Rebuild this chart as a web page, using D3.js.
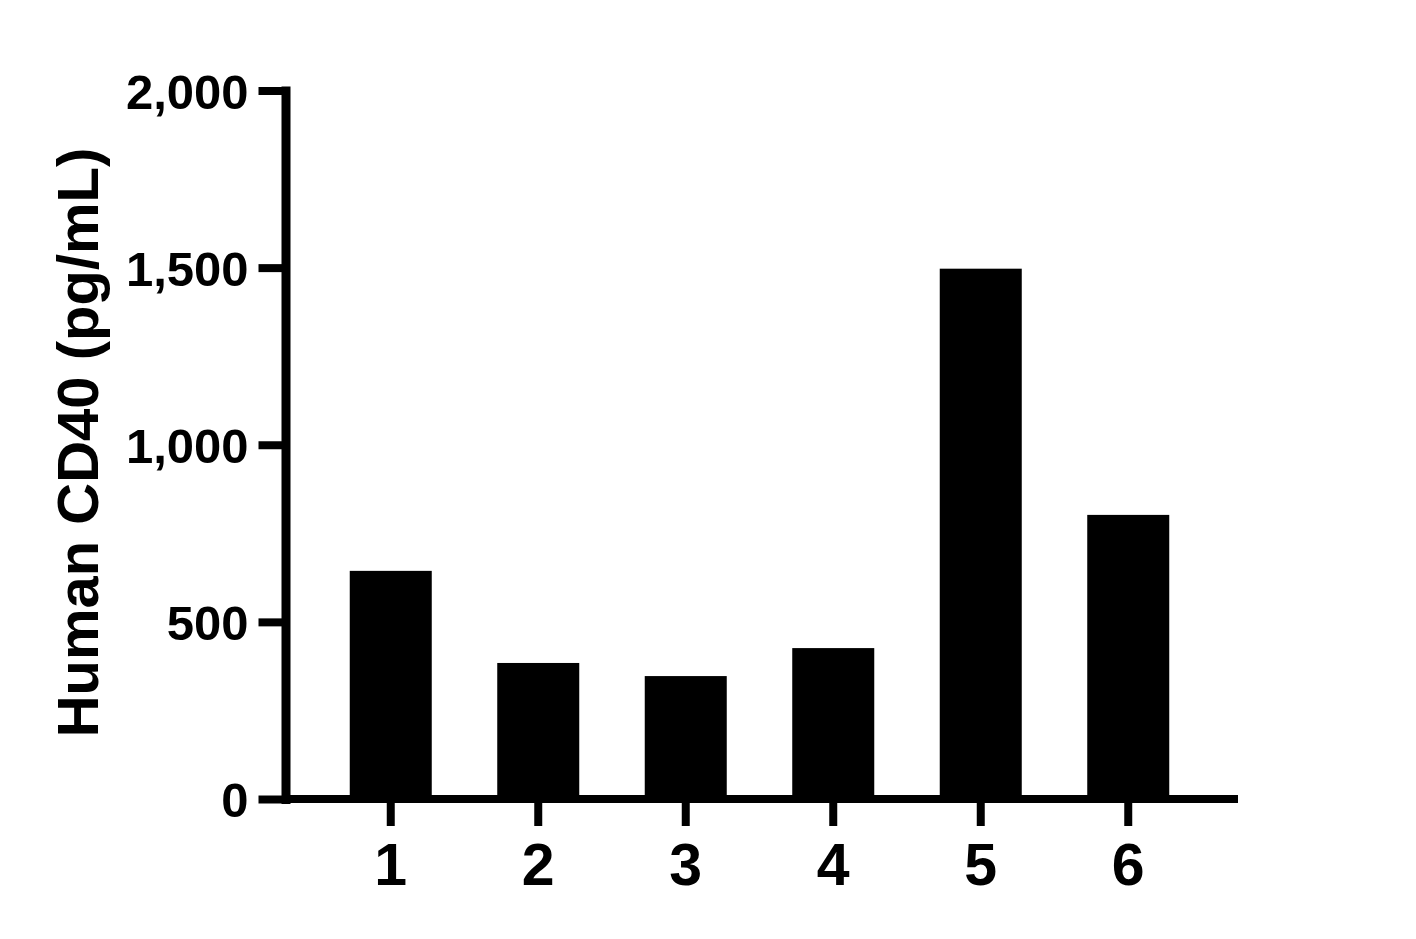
<!DOCTYPE html>
<html>
<head>
<meta charset="utf-8">
<script src="https://cdn.jsdelivr.net/npm/d3@7"></script>
<style>
  html, body { margin: 0; padding: 0; background: #fff; }
  svg { display: block; }
  text { font-family: "Liberation Sans", Arial, sans-serif; font-weight: bold; fill: #000; }
</style>
</head>
<body>
<script>
const categories = ["1", "2", "3", "4", "5", "6"];
const values = [644, 384, 347, 426, 1497, 802];
const yTicks = [0, 500, 1000, 1500, 2000];
const yTitle = "Human CD40 (pg/mL)";

const W = 1416, H = 939;
const plotLeft = 285.5, plotRight = 1238, plotTop = 90.5, plotBottom = 799;

const svg = d3.select("body").append("svg").attr("width", W).attr("height", H);

const y = d3.scaleLinear().domain([0, 2000]).range([plotBottom, plotTop]);
const x = d3.scaleBand().domain(categories)
  .range([317, 1202]).paddingInner(0.444).paddingOuter(0.222);

// bars
svg.append("g").selectAll("rect").data(values).join("rect")
  .attr("x", (d, i) => x(categories[i]))
  .attr("width", x.bandwidth())
  .attr("y", d => y(d))
  .attr("height", d => y(0) - y(d))
  .attr("fill", "#000");

// y axis
const yAxis = svg.append("g").attr("transform", `translate(${plotLeft},0)`)
  .call(d3.axisLeft(y).tickValues(yTicks).tickFormat(d3.format(",")).tickSize(27).tickSizeOuter(0).tickPadding(10));
yAxis.select(".domain").attr("stroke", "#000").attr("stroke-width", 9).attr("stroke-linecap", "square");
yAxis.selectAll(".tick line").attr("stroke", "#000").attr("stroke-width", 8);
yAxis.selectAll(".tick text").attr("font-size", 49).attr("dy", "0.36em")
  .style("font-family", '"Liberation Sans", Arial, sans-serif').style("font-weight", "bold");

// x axis
const xAxis = svg.append("g").attr("transform", `translate(0,${plotBottom})`)
  .call(d3.axisBottom(x).tickSize(27).tickSizeOuter(0).tickPadding(17));
xAxis.select(".domain").remove();
xAxis.append("line").attr("x1", plotLeft).attr("x2", plotRight)
  .attr("y1", 0).attr("y2", 0).attr("stroke", "#000").attr("stroke-width", 8);
xAxis.selectAll(".tick line").attr("stroke", "#000").attr("stroke-width", 8);
xAxis.selectAll(".tick text").attr("font-size", 59).attr("dy", "0.71em")
  .style("font-family", '"Liberation Sans", Arial, sans-serif').style("font-weight", "bold");

// y title
svg.append("text")
  .attr("transform", `translate(98, ${(143 + 742) / 2}) rotate(-90)`)
  .attr("text-anchor", "middle")
  .attr("font-size", 58)
  .text(yTitle);
</script>
</body>
</html>
